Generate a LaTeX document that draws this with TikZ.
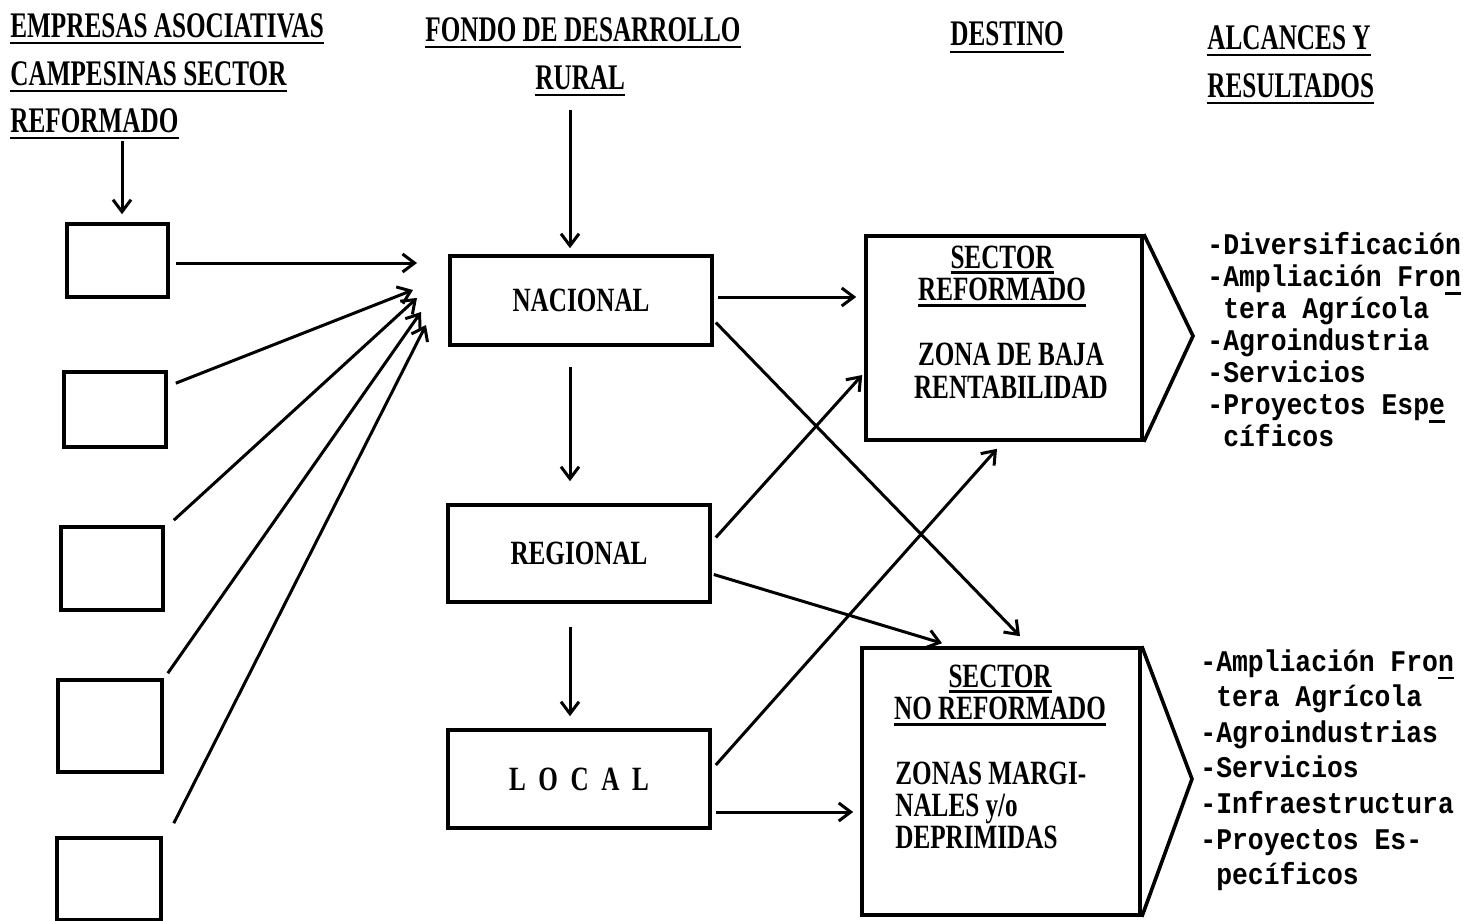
\documentclass[tikz,border=0pt]{standalone}
\usepackage{fontspec}
\setmainfont{Liberation Serif}
\newfontfamily\hdfont[FakeStretch=0.70]{Liberation Serif}
\newfontfamily\bxfont[FakeStretch=0.74]{Liberation Serif}
\newfontfamily\twfont[FakeStretch=0.88]{Liberation Mono}
\usetikzlibrary{calc,arrows.meta}
\newcommand\ulc[2][4pt]{\setbox0\hbox{#2}\rlap{\rule[-#1]{\wd0}{1.3pt}}\box0}

\tikzset{
	box/.style={draw,line width=1.8pt,inner sep=0pt},
	arw/.style={-{Straight Barb[length=6pt,width=9pt]},line width=1.5pt},
	hd/.style={font=\hdfont\bfseries\fontsize{18}{20}\selectfont,anchor=base west,inner sep=0pt},
	bx/.style={font=\bxfont\bfseries\fontsize{17}{16}\selectfont,inner sep=0pt},
	lst/.style={font=\twfont\bfseries\fontsize{15}{16}\selectfont,align=left,anchor=north west,inner sep=0pt},
	ulin/.style={line width=1.4pt}
}

\begin{document}
\begin{tikzpicture}[x=0.5pt,y=-0.5pt]
	\useasboundingbox (0,0) rectangle (1484,921);
	% headings
	\node[hd] (h1) at (10,37) {EMPRESAS ASOCIATIVAS};
	\node[hd] (h2) at (10,85) {CAMPESINAS SECTOR};
	\node[hd] (h3) at (10,132) {REFORMADO};
	\node[hd] (h4) at (425,41) {FONDO DE DESARROLLO};
	\node[hd] (h5) at (535,89) {RURAL};
	\node[hd] (h6) at (950,46) {DESTINO};
	\node[hd] (h7) at (1207,49) {ALCANCES Y};
	\node[hd] (h8) at (1207,97) {RESULTADOS};
	\foreach \n in {h1,h2,h3,h4,h5,h6,h7,h8}
		\draw[ulin] ([yshift=-3pt]\n.base west) -- ([yshift=-3pt]\n.base east);
	% empresas
	\node[box,minimum width=50.5pt,minimum height=36.5pt] (box1) at (117.5,260.5) {};
	\node[box,minimum width=51pt,minimum height=37.5pt] (box2) at (115,409.5) {};
	\node[box,minimum width=51pt,minimum height=41.5pt] (box3) at (112,568.5) {};
	\node[box,minimum width=52pt,minimum height=46pt] (box4) at (110,726) {};
	\node[box,minimum width=52pt,minimum height=41pt] (box5) at (109,879) {};
	% fondo
	\node[box,bx,minimum width=131pt,minimum height=44.5pt] (nac) at (581,300.5) {NACIONAL};
	\node[box,bx,minimum width=131pt,minimum height=48.5pt] (reg) at (579,553.5) {REGIONAL};
	\node[box,bx,minimum width=131pt,minimum height=49pt] (loc) at (579,779) {L\ \ O\ \ C\ \ A\ \ L};
	% destino
	\node[box,minimum width=138pt,minimum height=102pt] (sr) at (1004,338) {};
	\node[box,minimum width=139pt,minimum height=133.5pt] (snr) at (1001,781.5) {};
	\node[bx,align=center,anchor=north] (srT) at (1002,246) {\ulc[2.5pt]{SECTOR}\\\ulc[3pt]{REFORMADO}};
	\node[bx,align=center,anchor=north] (srZ) at (1011,343) {ZONA DE BAJA\\[0.5pt]RENTABILIDAD};
	\node[bx,align=center,anchor=north] (snT) at (1000,665) {\ulc[2.5pt]{SECTOR}\\\ulc[3pt]{NO REFORMADO}};
	\node[bx,align=left,anchor=north west] (snZ) at (895,762) {ZONAS MARGI-\\NALES y/o\\DEPRIMIDAS};
	% alcances
	\coordinate (tipA) at (1193,336);
	\coordinate (tipB) at (1192,779);
	\draw[line width=1.8pt] (sr.north east) -- (tipA) -- (sr.south east);
	\draw[line width=1.8pt] (snr.north east) -- (tipB) -- (snr.south east);
	\node[lst] (res1) at (1207,232) {-Diversificación\\-Ampliación Fro\ulc{n}\\\phantom{-}tera Agrícola\\-Agroindustria\\-Servicios\\-Proyectos Esp\ulc{e}\\\phantom{-}cíficos};
	\node[lst,font=\twfont\bfseries\fontsize{15}{17.8}\selectfont] (res2) at (1200,649) {-Ampliación Fro\ulc{n}\\\phantom{-}tera Agrícola\\-Agroindustrias\\-Servicios\\-Infraestructura\\-Proyectos Es-\\\phantom{-}pecíficos};
	% flechas
	\coordinate (c1) at (417,263);
	\coordinate (c2) at (413,290);
	\coordinate (c3) at (417,298);
	\coordinate (c4) at (421,312);
	\coordinate (c5) at (426,325);
	\draw[arw] ([xshift=2.25pt,yshift=-4pt]box1.north |- h3.south) -- ([xshift=2.25pt,yshift=4pt]box1.north);
	\draw[arw] ($(box1.east)+(6,2.5)$) -- (c1);
	\draw[arw] ($(box2.north east)+(8,13)$) -- (c2);
	\draw[arw] ($(box3.north east)+(9,-5)$) -- (c3);
	\draw[arw] ($(box4.north east)+(4,-5)$) -- (c4);
	\draw[arw] ($(box5.north east)+(11,-13)$) -- (c5);
	\draw[arw] ([xshift=-5.5pt,yshift=-10.5pt]nac.north |- h5.base) -- ([xshift=-5.5pt,yshift=3pt]nac.north);
	\draw[arw] ([xshift=-5.5pt,yshift=-10pt]nac.south) -- ([xshift=-4.5pt,yshift=11pt]reg.north);
	\draw[arw] ([xshift=-4.5pt,yshift=-11.5pt]reg.south) -- ([xshift=-4.5pt,yshift=6pt]loc.north);
	\draw[arw] ($(nac.east)+(4,-3.5)$) -- ($(sr.west |- nac.east)+(-8,-3.5)$);
	\draw[arw] ($(nac.east)+(2,22)$) -- ($(snr.north)+(19,-10)$);
	\draw[arw] ($(reg.east)+(4,-16)$) -- ($(sr.west)+(-2,37)$);
	\draw[arw] ($(reg.east)+(2,21)$) -- ($(snr.north)+(-59,-3)$);
	\draw[arw] ($(loc.east)+(4,-14)$) -- ($(sr.south)+(-7,7)$);
	\draw[arw] ($(loc.east)+(4,33)$) -- ($(snr.west |- loc.east)+(-7,33)$);
\end{tikzpicture}
\end{document}
